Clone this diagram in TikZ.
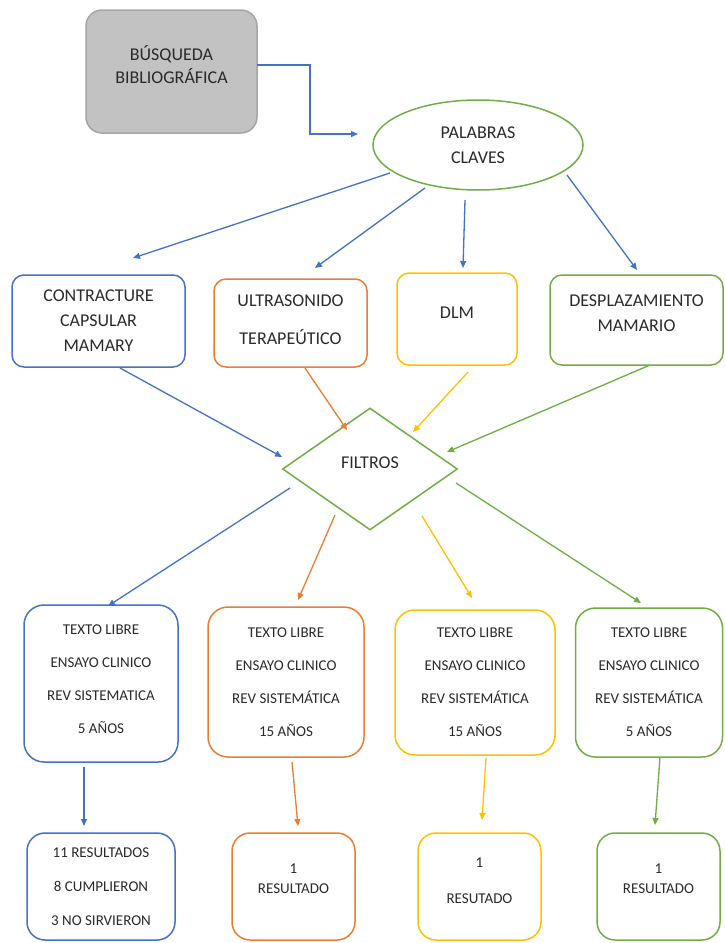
\documentclass[tikz,border=0pt]{standalone}
\usepackage{fontspec}
\setmainfont{Carlito}
\usetikzlibrary{shapes.geometric,arrows.meta,calc}
\definecolor{cblue}{HTML}{4472C4}
\definecolor{corange}{HTML}{ED7D31}
\definecolor{cyellow}{HTML}{FFC000}
\definecolor{cgreen}{HTML}{70AD47}
\definecolor{gfill}{HTML}{C2C2C2}
\definecolor{gline}{HTML}{A6A6A6}
\definecolor{txt}{HTML}{2A2A2A}
\begin{document}
\begin{tikzpicture}[x=1pt,y=-1pt,
  box/.style={draw, rectangle, rounded corners=#1, line width=1.5pt, inner sep=0pt, align=center, text=txt},
  box/.default=12pt,
  big/.style={font=\fontsize{18}{25}\selectfont},
  small/.style={font=\fontsize{15}{33}\selectfont},
  arr/.style={-{Triangle[length=7pt,width=6pt]}, line width=1.3pt}]
\useasboundingbox (0,0) rectangle (724,943);
\clip (0,0) rectangle (724,943);
% top
\node[box=16pt, fill=gfill, draw=gline, font=\fontsize{18}{23}\selectfont, minimum width=171pt, minimum height=123pt] (g) at (171.5,71.5) {BÚSQUEDA\\BIBLIOGRÁFICA\\[-9pt]};
\node[draw=cgreen, ellipse, line width=1.5pt, big, align=center, text=txt, minimum width=210pt, minimum height=90pt, inner sep=0pt] (kw) at (478,145) {PALABRAS\\CLAVES};
% row 2
\node[box, draw=cblue, big, minimum width=173pt, minimum height=92pt] (c1) at (98.5,321) {CONTRACTURE\\CAPSULAR\\MAMARY};
\node[box, draw=corange, font=\fontsize{18}{38}\selectfont, minimum width=153pt, minimum height=88pt] (c2) at (290.5,323) {ULTRASONIDO\\TERAPEÚTICO\\[-32pt]};
\node[box, draw=cyellow, big, minimum width=120pt, minimum height=92pt] (c3) at (457,319) {DLM\\[-13pt]};
\node[box, draw=cgreen, big, minimum width=173pt, minimum height=90pt] (c4) at (636.5,320) {DESPLAZAMIENTO\\MAMARIO\\[-12pt]};
% diamond
\node[draw=cgreen, diamond, line width=1.5pt, minimum width=175pt, minimum height=122pt, inner sep=0pt, text=txt, big, align=center] (d) at (370,469) {FILTROS\\[-13pt]};
% row 3
\node[box=20pt, draw=cblue, small, minimum width=154pt, minimum height=157pt] (r1) at (101,683.5) {TEXTO LIBRE\\ENSAYO CLINICO\\REV SISTEMATICA\\5 AÑOS\\[-25pt]};
\node[box=20pt, draw=corange, small, minimum width=156pt, minimum height=150pt] (r2) at (286,682) {TEXTO LIBRE\\ENSAYO CLINICO\\REV SISTEMÁTICA\\15 AÑOS};
\node[box=20pt, draw=cyellow, small, minimum width=160pt, minimum height=145pt] (r3) at (475,682.5) {TEXTO LIBRE\\ENSAYO CLINICO\\REV SISTEMÁTICA\\15 AÑOS};
\node[box=20pt, draw=cgreen, small, minimum width=147pt, minimum height=149pt] (r4) at (649,682.5) {TEXTO LIBRE\\ENSAYO CLINICO\\REV SISTEMÁTICA\\5 AÑOS};
% row 4
\node[box=18pt, draw=cblue, font=\fontsize{15}{34}\selectfont, minimum width=148pt, minimum height=107pt] (s1) at (101,886.5) {11 RESULTADOS\\8 CUMPLIERON\\3 NO SIRVIERON};
\node[box=18pt, draw=corange, font=\fontsize{15}{20}\selectfont, minimum width=123pt, minimum height=107pt] (s2) at (293.5,886.5) {1\\RESULTADO\\[-4pt]};
\node[box=18pt, draw=cyellow, font=\fontsize{15}{36}\selectfont, minimum width=123pt, minimum height=107pt] (s3) at (479.5,886.5) {1\\RESUTADO\\[-24pt]};
\node[box=18pt, draw=cgreen, font=\fontsize{15}{20}\selectfont, minimum width=123pt, minimum height=107pt] (s4) at (658.5,886.5) {1\\RESULTADO\\[-4pt]};
% connectors
\draw[arr, cblue] ($(g.center)+(85.5,-6.5)$) -- ++(53,0) |- ($(kw.center)+(-120,-11)$);
\draw[arr, cblue] ($(kw.center)+(-88,28)$) -- ($(c1.center)+(34.5,-63)$);
\draw[arr, cblue] ($(kw.center)+(-53,43)$) -- ($(c2.center)+(24.5,-55)$);
\draw[arr, cblue] ($(kw.center)+(-13,55)$) -- ($(c3.center)+(6,-51)$);
\draw[arr, cblue] ($(kw.center)+(89,30)$) -- ($(c4.center)+(0.5,-50)$);
\draw[arr, cblue] ($(c1.center)+(21.5,47)$) -- ($(d.center)+(-88,-12)$);
\draw[arr, corange] ($(c2.center)+(14.5,45)$) -- ($(d.center)+(-23,-39)$);
\draw[arr, cyellow] ($(c3.center)+(11,53)$) -- ($(d.center)+(43,-37)$);
\draw[arr, cgreen] ($(c4.center)+(13.5,45)$) -- ($(d.center)+(77,-17)$);
\draw[arr, cblue] ($(d.center)+(-80,19)$) -- ($(r1.center)+(7,-77.5)$);
\draw[arr, corange] ($(d.center)+(-35,46)$) -- ($(r2.center)+(12,-82)$);
\draw[arr, cyellow] ($(d.center)+(52,47)$) -- ($(r3.center)+(-3,-84.5)$);
\draw[arr, cgreen] ($(d.center)+(86,14)$) -- ($(r4.center)+(-8,-79.5)$);
\draw[arr, cblue] ($(r1.center)+(-17,83.5)$) -- ($(s1.center)+(-17,-60.5)$);
\draw[arr, corange] ($(r2.center)+(6,80)$) -- ($(s2.center)+(4.5,-60.5)$);
\draw[arr, cyellow] ($(r3.center)+(11,75.5)$) -- ($(s3.center)+(2.5,-66.5)$);
\draw[arr, cgreen] ($(r4.center)+(11,74.5)$) -- ($(s4.center)+(-3.5,-61.5)$);
\end{tikzpicture}
\end{document}
